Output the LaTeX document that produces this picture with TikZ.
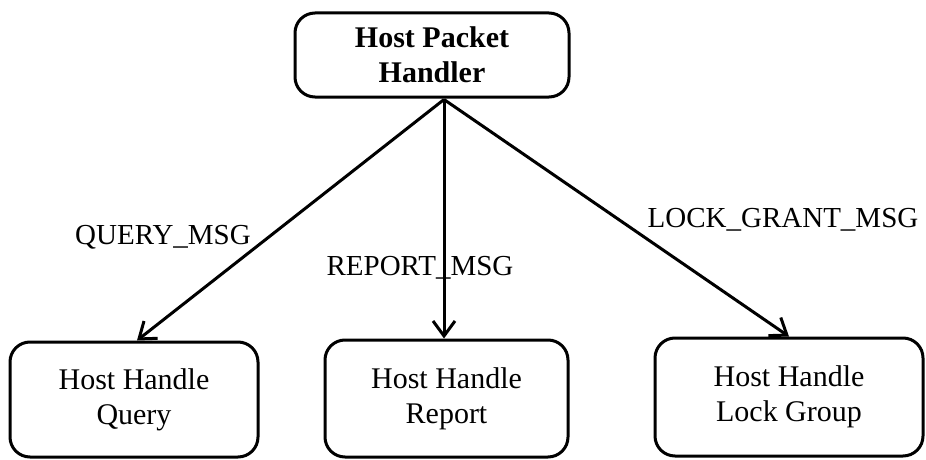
\documentclass[tikz,border=0pt]{standalone}
\usepackage{fontspec}
\setmainfont{Liberation Serif}
\usetikzlibrary{arrows.meta}
\begin{document}
\begin{tikzpicture}[x=1pt,y=-1pt,
  box/.style={draw, line width=3pt, rounded corners=20pt, align=center,
              inner sep=0pt, font=\fontsize{30}{35}\selectfont},
  flow/.style={line width=3pt, -{Straight Barb[length=15pt,width=22pt,line width=3pt]}},
  msg/.style={font=\fontsize{29}{34}\selectfont, inner sep=0pt}]
  \useasboundingbox (0,0) rectangle (926,460);
  % handler at the top
  \node[box, minimum width=274pt, minimum height=84pt, font=\fontsize{30}{35}\selectfont\bfseries]
    (top) at (432,55) {Host Packet\\Handler};
  % three handlers below
  \node[box, minimum width=248pt, minimum height=115pt] (q) at (134,399.5) {Host Handle\\Query};
  \node[box, minimum width=243pt, minimum height=117pt] (r) at (446.5,398.5) {Host Handle\\Report};
  \node[box, minimum width=268pt, minimum height=118pt] (l) at (789,397) {Host Handle\\Lock Group};
  % common origin of the dispatch arrows
  \coordinate (src) at ([xshift=12pt,yshift=-1pt]top.south);
  \coordinate (rin) at (src |- r.north);
  % dispatch arrows
  \draw[flow] (src) -- ([xshift=3pt]q.north);
  \draw[flow] (src) -- (rin);
  \draw[flow] (src) -- (l.north);
  % message labels
  \node[msg] (mq) at (163,237) {QUERY\_MSG};
  \node[msg] (mr) at (420,268) {REPORT\_MSG};
  \node[msg] (ml) at (783,220) {LOCK\_GRANT\_MSG};
\end{tikzpicture}
\end{document}
